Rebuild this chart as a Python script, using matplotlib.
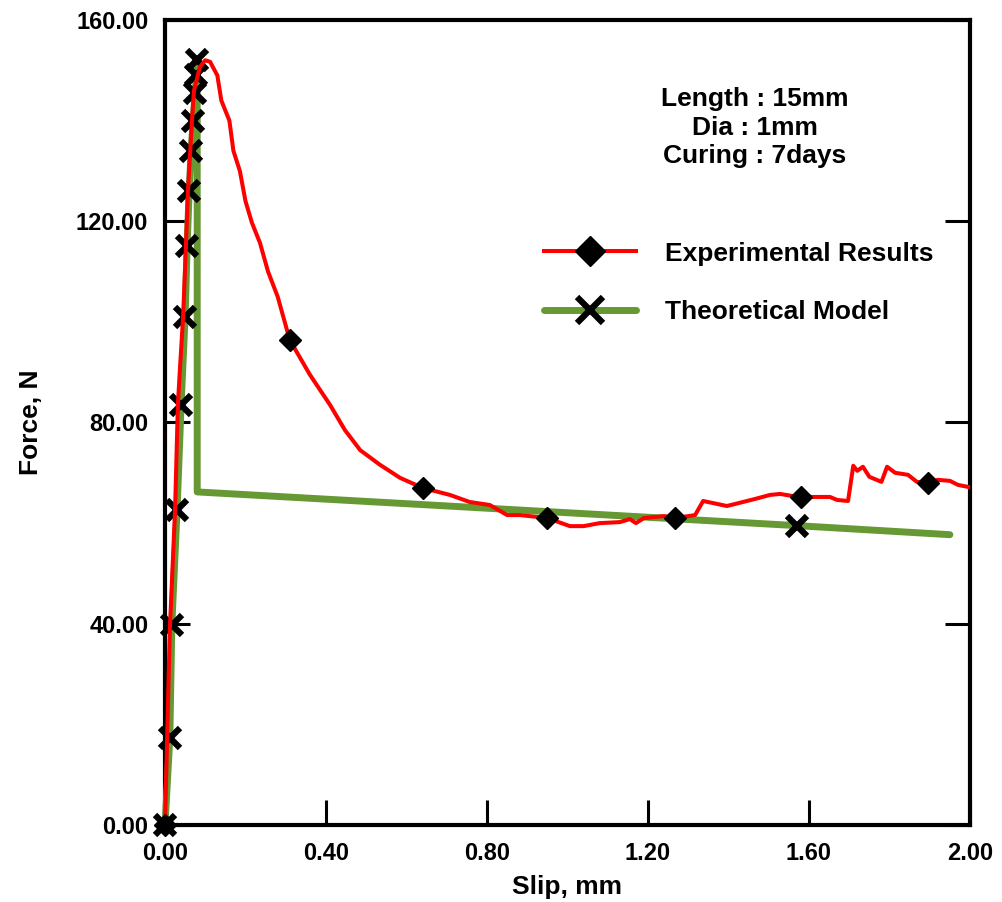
import matplotlib
matplotlib.use('Agg')
import matplotlib.pyplot as plt
import numpy as np
from matplotlib.ticker import FormatStrFormatter

plt.rcParams['font.family'] = ['Liberation Sans', 'DejaVu Sans']
plt.rcParams['font.weight'] = 'bold'

# Experimental pull-out curve (slip in mm, force in N)
exp_slip = [0.0, 0.012, 0.025, 0.032, 0.037, 0.045, 0.052, 0.057, 0.067, 0.072,
            0.087, 0.100, 0.112, 0.13, 0.14, 0.16, 0.17, 0.186, 0.20, 0.216,
            0.236, 0.256, 0.28, 0.31, 0.36, 0.41, 0.447, 0.485, 0.534, 0.584,
            0.64, 0.708, 0.757, 0.807, 0.85, 0.882, 0.95, 1.006, 1.04, 1.08,
            1.13, 1.155, 1.17, 1.19, 1.24, 1.267, 1.317, 1.337, 1.396, 1.466,
            1.503, 1.528, 1.558, 1.58, 1.652, 1.67, 1.697, 1.71, 1.72, 1.734,
            1.75, 1.78, 1.794, 1.814, 1.846, 1.868, 1.896, 1.92, 1.95, 1.97, 1.995]
exp_force = [0.0, 38.8, 62.6, 83.5, 90.5, 101.0, 115.0, 126.0, 140.0, 146.0,
             150.7, 152.0, 151.7, 149.0, 144.0, 140.0, 134.0, 130.0, 124.0, 119.7,
             115.7, 110.0, 105.0, 96.4, 89.5, 83.5, 78.5, 74.5, 71.6, 69.0,
             67.0, 65.6, 64.2, 63.6, 61.6, 61.6, 61.0, 59.4, 59.4, 60.0,
             60.2, 60.8, 60.0, 61.0, 61.4, 61.0, 61.6, 64.4, 63.4, 64.8,
             65.6, 65.8, 65.4, 65.2, 65.2, 64.6, 64.4, 71.4, 70.4, 71.2,
             69.2, 68.2, 71.2, 70.0, 69.6, 68.2, 68.0, 68.6, 68.4, 67.6, 67.2]
exp_marker_slip = [0.0, 0.31, 0.64, 0.95, 1.267, 1.58, 1.896]

# Theoretical model
theo_slip = [0.0, 0.012, 0.017, 0.03, 0.04, 0.05, 0.055, 0.06, 0.065, 0.07,
             0.075, 0.078, 0.08, 0.08, 1.57, 1.95]
theo_force = [0.0, 17.3, 39.8, 62.6, 83.5, 101.0, 115.0, 126.0, 134.0, 140.0,
              145.5, 149.0, 152.0, 66.2, 59.5, 57.7]
theo_marker_idx = [0, 1, 2, 3, 4, 5, 6, 7, 8, 9, 10, 11, 12, 14]

info_text = "Length : 15mm\nDia : 1mm\nCuring : 7days"

fig = plt.figure(figsize=(10.03, 9.02), dpi=100)
ax = fig.add_axes([0.1645, 0.0854, 0.8026, 0.8924])

exp_marker_idx = [int(np.argmin(np.abs(np.array(exp_slip) - s))) for s in exp_marker_slip]

ax.plot(theo_slip, theo_force, color='#669933', lw=5, solid_capstyle='round',
        marker='x', markevery=theo_marker_idx, ms=14, mew=4.5, mec='black',
        label='Theoretical Model', clip_on=False, zorder=3)
ax.plot(exp_slip, exp_force, color='#ff0000', lw=2.9,
        marker='D', markevery=exp_marker_idx, ms=11, mfc='black', mec='black',
        label='Experimental Results', clip_on=False, zorder=4)

ax.set_xlim(0, 2)
ax.set_ylim(0, 160)
ax.set_xticks(np.arange(0, 2.01, 0.4))
ax.set_yticks(np.arange(0, 161, 40))
ax.xaxis.set_major_formatter(FormatStrFormatter('%.2f'))
ax.yaxis.set_major_formatter(FormatStrFormatter('%.2f'))
ax.tick_params(direction='in', length=18, width=2.2, labelsize=17, pad=12,
               right=True, top=False)
for spine in ax.spines.values():
    spine.set_linewidth(3)

ax.set_xlabel('Slip, mm', fontsize=19, fontweight='bold')
ax.set_ylabel('Force, N', fontsize=19, fontweight='bold')
ax.xaxis.set_label_coords(0.5, -0.062)
ax.yaxis.set_label_coords(-0.152, 0.5)

ax.text(0.733, 0.917, info_text, transform=ax.transAxes, ha='center', va='top',
        fontsize=19, fontweight='bold', linespacing=1.25)

handles, labels = ax.get_legend_handles_labels()
ax.legend(handles[::-1], labels[::-1], loc='upper left', bbox_to_anchor=(0.454, 0.741),
          frameon=False, borderpad=0, handlelength=3.5, handletextpad=1.1,
          labelspacing=1.3, markerscale=1.35, prop={'size': 19, 'weight': 'bold'})

fig.savefig('out.png', dpi=100)
